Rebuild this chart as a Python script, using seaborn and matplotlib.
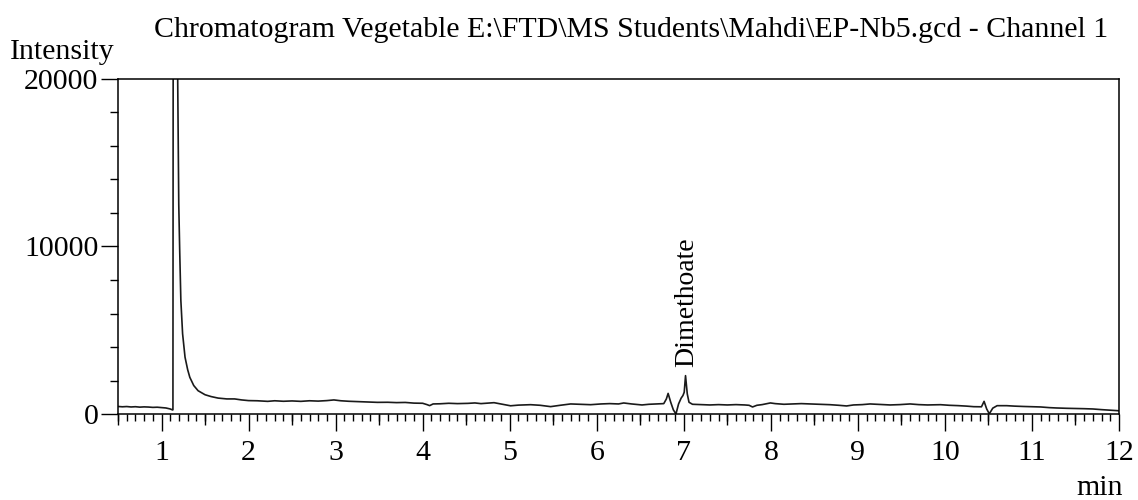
import matplotlib
matplotlib.use("Agg")
import matplotlib.pyplot as plt
from matplotlib.ticker import MultipleLocator, FixedLocator
import seaborn as sns
import pandas as pd

# ---- data ----
time_min = [
    0.50, 0.55, 0.60, 0.65, 0.70, 0.75, 0.80, 0.85, 0.90, 0.95, 1.00, 1.05, 1.10, 1.128,
    1.131, 1.135, 1.176, 1.186, 1.198, 1.209, 1.222, 1.242, 1.270, 1.300, 1.325, 1.370,
    1.420, 1.500, 1.570, 1.650, 1.750, 1.840, 1.920, 2.00, 2.10, 2.22, 2.30, 2.40, 2.50,
    2.60, 2.70, 2.80, 2.90, 2.98, 3.06, 3.15, 3.25, 3.35, 3.48, 3.60, 3.70, 3.80, 3.90,
    4.00, 4.05, 4.08, 4.12, 4.20, 4.30, 4.40, 4.52, 4.60, 4.67, 4.75, 4.82, 4.90, 5.01,
    5.10, 5.24, 5.35, 5.47, 5.58, 5.70, 5.80, 5.93, 6.05, 6.15, 6.25, 6.31, 6.40, 6.52,
    6.60, 6.70, 6.77, 6.80, 6.82, 6.85, 6.88, 6.91, 6.94, 6.97, 6.99, 7.005, 7.02, 7.04,
    7.06, 7.10, 7.20, 7.30, 7.40, 7.50, 7.60, 7.70, 7.75, 7.79, 7.84, 7.90, 7.995, 8.05,
    8.15, 8.25, 8.35, 8.45, 8.55, 8.68, 8.78, 8.87, 8.95, 9.05, 9.14, 9.25, 9.37, 9.48,
    9.60, 9.70, 9.80, 9.95, 10.05, 10.15, 10.25, 10.33, 10.42, 10.45, 10.48, 10.51, 10.55,
    10.60, 10.71, 10.80, 10.90, 11.00, 11.10, 11.20, 11.28, 11.40, 11.50, 11.60, 11.70,
    11.80, 11.90, 11.99, 12.00,
]
intensity = [
    450, 430, 445, 420, 435, 410, 425, 415, 395, 405, 380, 360, 300, 240,
    250, 31000, 31000, 19800, 12500, 9700, 6780, 4790, 3390, 2650, 2190, 1700,
    1390, 1150, 1040, 950, 900, 900, 840, 800, 790, 755, 790, 760, 780,
    755, 790, 770, 800, 840, 790, 760, 740, 720, 695, 700, 680, 690, 650,
    640, 560, 500, 600, 610, 640, 620, 635, 660, 620, 650, 676, 600, 490,
    530, 556, 520, 440, 520, 600, 580, 556, 600, 620, 600, 658, 600, 540,
    580, 600, 620, 900, 1230, 700, 250, 0, 600, 950, 1100, 1300, 2290, 1200,
    700, 580, 560, 540, 560, 540, 560, 540, 520, 420, 520, 560, 660, 620,
    580, 600, 620, 600, 580, 556, 520, 480, 540, 560, 600, 570, 540, 560,
    600, 560, 540, 556, 520, 500, 470, 437, 430, 755, 300, 10, 350,
    497, 497, 470, 450, 437, 420, 380, 360, 340, 330, 317, 300,
    260, 230, 197, 190,
]
x_major = [1, 2, 3, 4, 5, 6, 7, 8, 9, 10, 11, 12]
y_major = [0, 10000, 20000]
title_text = "Chromatogram Vegetable E:\\FTD\\MS Students\\Mahdi\\EP-Nb5.gcd - Channel 1"
peak_label = "Dimethoate"
peak_time = 7.03

df = pd.DataFrame({"time": time_min, "intensity": intensity})

sns.set_theme(style="ticks")
plt.rcParams["font.family"] = ["Liberation Serif", "DejaVu Serif"]
plt.rcParams["text.color"] = "black"
plt.rcParams["xtick.color"] = "black"
plt.rcParams["ytick.color"] = "black"

FS = 21.5

fig = plt.figure(figsize=(11.38, 5.0), dpi=100)
ax = fig.add_axes([0.1037, 0.172, 0.8796, 0.670])

sns.lineplot(data=df, x="time", y="intensity", ax=ax, color="#1a1a1a",
             linewidth=1.2, estimator=None, sort=False)

ax.set_xlim(0.5, 12)
ax.set_ylim(0, 20000)
ax.set_xlabel("")
ax.set_ylabel("")

for s in ax.spines.values():
    s.set_visible(True)
    s.set_color("black")
    s.set_linewidth(1.1)

ax.xaxis.set_major_locator(FixedLocator(x_major))
ax.xaxis.set_minor_locator(MultipleLocator(0.1))
ax.yaxis.set_major_locator(FixedLocator(y_major))
ax.yaxis.set_minor_locator(MultipleLocator(2000))
ax.set_xticklabels([str(v) for v in x_major])
ax.set_yticklabels([str(v) for v in y_major])

ax.tick_params(axis="both", which="major", direction="out", length=12, width=1.0,
               labelsize=FS)
ax.tick_params(axis="x", which="major", pad=7)
ax.tick_params(axis="y", which="major", pad=2)
ax.tick_params(axis="x", which="minor", direction="out", length=5, width=1.0)
ax.tick_params(axis="y", which="minor", direction="out", length=6, width=1.0)

# half-minute ticks (medium length)
sec = ax.secondary_xaxis("bottom")
sec.set_xticks([v + 0.5 for v in range(0, 12)])
sec.tick_params(direction="out", length=8, width=1.0, labelbottom=False)
sec.spines["bottom"].set_visible(False)

ax.text(peak_time, 2830, peak_label, rotation=90, ha="center", va="bottom",
        fontsize=20)

fig.text(0.9736, 0.94, title_text, ha="right", va="center", fontsize=FS)
fig.text(0.0088, 0.896, "Intensity", ha="left", va="center", fontsize=FS)
fig.text(0.9666, 0.01, "min", ha="center", va="baseline", fontsize=FS)

fig.savefig("out.png", dpi=100)
